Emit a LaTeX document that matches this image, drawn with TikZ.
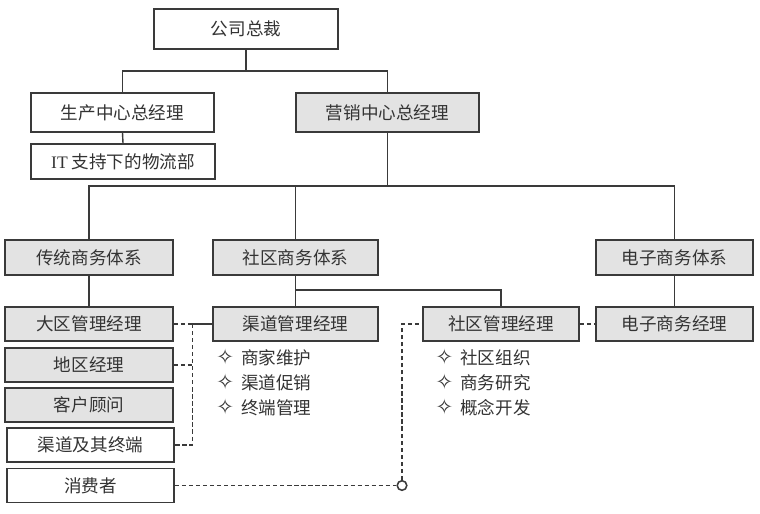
\documentclass[tikz,border=0pt]{standalone}
\usepackage{fontspec}
\usepackage{tikz}
\usepackage{xcolor}
\usetikzlibrary{positioning, calc}
\setmainfont{Noto Sans CJK SC}
\newfontfamily\latinfont{Liberation Serif}
\newfontfamily\dingfont{DejaVu Sans}
\definecolor{BoxLine}{HTML}{3A3A3A}
\definecolor{BoxFill}{HTML}{E3E3E3}
\definecolor{InkGray}{HTML}{333333}
\newcommand\diamondmark{{\dingfont\bfseries\fontsize{15}{15}\selectfont ✧}\hspace{0.4em}}

\begin{document}
\begin{tikzpicture}[
    x=0.025cm, y=-0.025cm,
    org_box/.style={
        draw=BoxLine,
        line width=1.1pt,
        fill=white,
        minimum height=0.85cm,
        inner sep=0pt,
        text=InkGray,
        font=\fontsize{12.5}{15}\selectfont
    },
    grey_box/.style={
        org_box,
        fill=BoxFill
    },
    org_line/.style={
        draw=BoxLine,
        line width=1pt
    },
    dash_line/.style={
        org_line,
        dash pattern=on 3pt off 2pt
    },
    hub_dot/.style={
        circle,
        draw=BoxLine,
        line width=1.1pt,
        fill=white,
        inner sep=0pt,
        minimum size=0.24cm
    },
    item_list/.style={
        align=left,
        inner sep=0pt,
        text=InkGray,
        font=\fontsize{12.5}{17.8}\selectfont
    }
]
\useasboundingbox (0,0) rectangle (760,513);

% =========================
% TOP LEVEL
% =========================
\node[org_box, minimum width=4.6cm, minimum height=1.0cm] (ceo) at (246,29) {公司总裁};
\node[org_box, minimum width=4.575cm, minimum height=0.975cm] (prod) at (122.5,112.5) {生产中心总经理};
\node[grey_box, minimum width=4.575cm, minimum height=0.975cm] (mkt) at (387.5,112.5) {营销中心总经理};
\node[org_box, minimum width=4.6cm, minimum height=0.875cm] (logi) at (123,161.5) {{\latinfont IT} 支持下的物流部};

% =========================
% BUSINESS SYSTEMS
% =========================
\node[grey_box, minimum width=4.2cm, minimum height=0.875cm] (trad) at (89,257.5) {传统商务体系};
\node[grey_box, minimum width=4.125cm, minimum height=0.875cm] (comm) at (295.5,257.5) {社区商务体系};
\node[grey_box, minimum width=3.925cm, minimum height=0.875cm] (ecom) at (674.5,257.5) {电子商务体系};

% =========================
% TRADITIONAL CHAIN
% =========================
\node[grey_box, minimum width=4.2cm] (region) at (89,324) {大区管理经理};
\node[grey_box, minimum width=4.2cm] (area) at (89,365) {地区经理};
\node[grey_box, minimum width=4.2cm] (client) at (89,405) {客户顾问};
\node[org_box, minimum width=4.175cm] (channel) at (90.5,445) {渠道及其终端};
\node[org_box, minimum width=4.175cm] (consumer) at (90.5,485.5) {消费者};

% =========================
% MANAGERS
% =========================
\node[grey_box, minimum width=4.125cm] (chmgr) at (295.5,324) {渠道管理经理};
\node[grey_box, minimum width=3.9cm] (cmgr) at (501,324) {社区管理经理};
\node[grey_box, minimum width=3.925cm] (emgr) at (674.5,324) {电子商务经理};

\node[item_list, anchor=north west] (chmgr_tasks)
    at ([shift={(0.1cm,-0.17cm)}]chmgr.south west)
    {\diamondmark 商家维护\\\diamondmark 渠道促销\\\diamondmark 终端管理};
\node[item_list, anchor=north west] (cmgr_tasks)
    at ([shift={(0.33cm,-0.17cm)}]cmgr.south west)
    {\diamondmark 社区组织\\\diamondmark 商务研究\\\diamondmark 概念开发};

\node[hub_dot] (hub) at (402,485.5) {};

% =========================
% SOLID LINKS
% =========================
\coordinate (top_bus) at (246,71);
\coordinate (mkt_bus) at (387.5,186);
\coordinate (comm_bus) at (295.5,290);

\draw[org_line] (ceo.south) -- (top_bus);
\draw[org_line] (prod.north) |- (top_bus) -| (mkt.north);
\draw[org_line] (prod.south) -- (logi.north);

\draw[org_line] (mkt.south) -- (mkt_bus);
\draw[org_line] (trad.north) |- (mkt_bus) -| (ecom.north);
\draw[org_line] (comm.north) -- (comm.north |- mkt_bus);

\draw[org_line] (trad.south) -- (region.north);
\draw[org_line] (comm.south) -- (chmgr.north);
\draw[org_line] (comm_bus) -| (cmgr.north);
\draw[org_line] (ecom.south) -- (emgr.north);

% =========================
% DASHED LINKS
% =========================
\draw[org_line] (chmgr.west) -- ++(-20,0) coordinate (dash_jn);
\draw[dash_line] (region.east) -- (dash_jn);
\draw[dash_line] (dash_jn) |- (channel.east);
\draw[dash_line] (area.east) -- (area.east -| dash_jn);

\draw[dash_line] (consumer.east) -- (hub.west);
\draw[dash_line] (hub.north) |- (cmgr.west);
\draw[dash_line] (cmgr.east) -- (emgr.west);

\end{tikzpicture}
\end{document}
